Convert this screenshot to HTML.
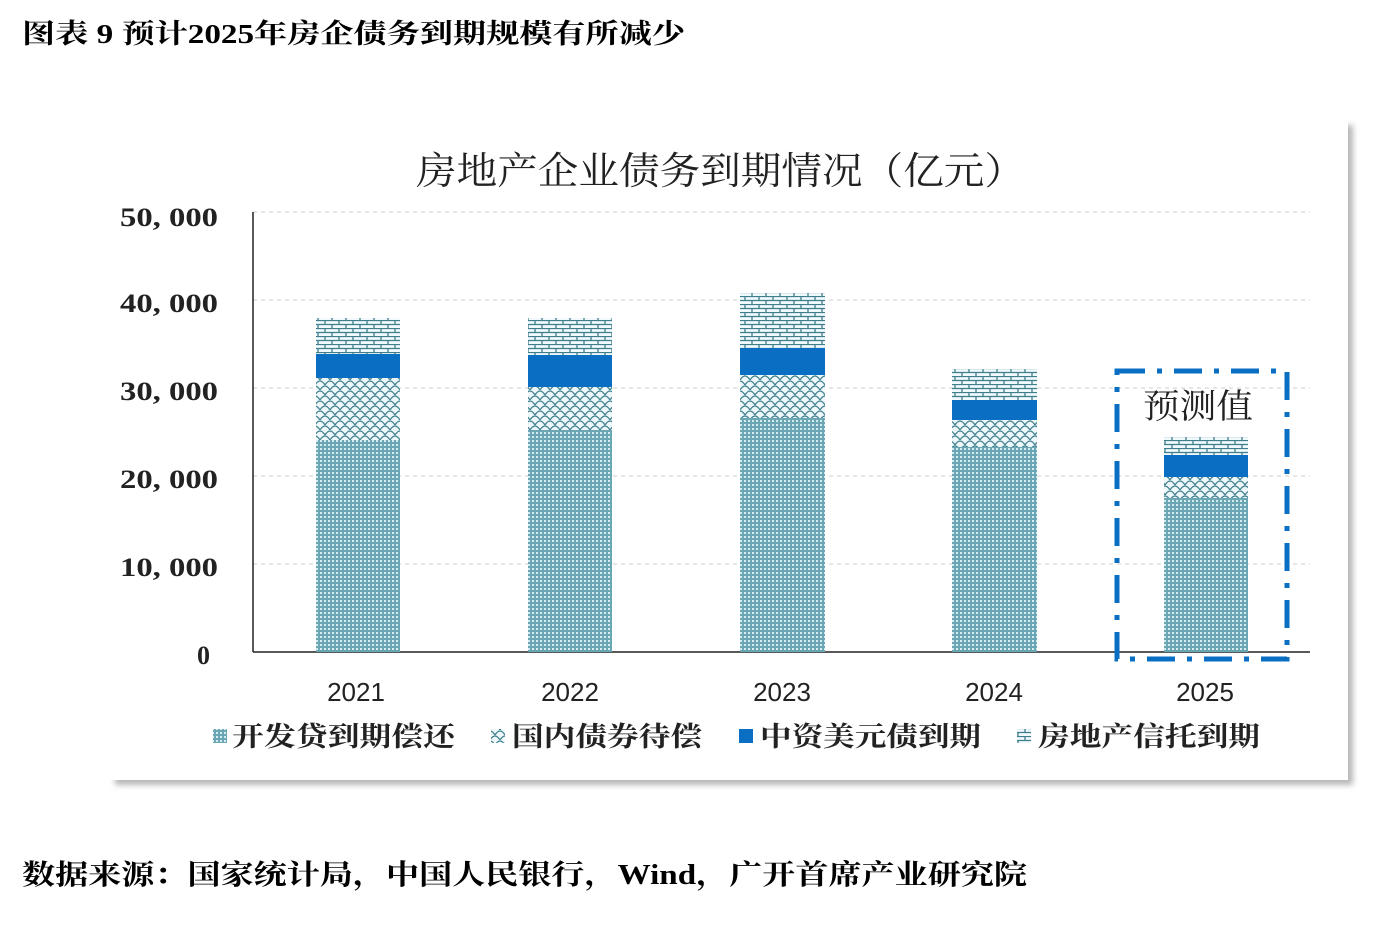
<!DOCTYPE html>
<html><head><meta charset="utf-8"><style>
html,body{margin:0;padding:0;background:#fff;width:1380px;height:930px;overflow:hidden}
</style></head><body>
<svg width="1380" height="930" xmlns="http://www.w3.org/2000/svg" font-family="'Liberation Serif','Noto Serif CJK SC',serif">
<defs>
<pattern id="dots" width="4" height="4" patternUnits="userSpaceOnUse"><rect width="4" height="4" fill="#6aa6b3"/><rect x="0" y="0" width="2" height="2" fill="#d6ecf0"/></pattern>
<pattern id="scale" width="10" height="10" patternUnits="userSpaceOnUse"><rect width="10" height="10" fill="#eef8fb"/><path d="M0 10 Q5 2 10 10" fill="none" stroke="#3f7f8c" stroke-width="1.2"/><path d="M-5 5 Q0 -3 5 5 M5 5 Q10 -3 15 5" fill="none" stroke="#3f7f8c" stroke-width="1.2"/></pattern>
<pattern id="brick" width="14" height="8" patternUnits="userSpaceOnUse"><rect width="14" height="8" fill="#f1f9fc"/><path d="M0 0.5H14 M0 4.5H14 M3 0V4 M10 4V8" stroke="#3f7f8c" stroke-width="1.3"/></pattern>
<filter id="sh" x="-5%" y="-5%" width="110%" height="110%"><feDropShadow dx="5" dy="5" stdDeviation="3" flood-color="#888" flood-opacity="0.6"/></filter>
</defs>
<text x="22" y="43" font-size="27" font-weight="bold" textLength="663" lengthAdjust="spacingAndGlyphs">图表 9 预计2025年房企债务到期规模有所减少</text>
<rect x="110" y="120" width="1238" height="660" fill="#fff" filter="url(#sh)"/>
<text x="416" y="184" font-size="38" fill="#222" textLength="609" lengthAdjust="spacingAndGlyphs">房地产企业债务到期情况（亿元）</text>
<g stroke="#ccc" stroke-dasharray="4,4" stroke-width="1">
<line x1="253" y1="212" x2="1310" y2="212"/><line x1="253" y1="300" x2="1310" y2="300"/><line x1="253" y1="388" x2="1310" y2="388"/><line x1="253" y1="476" x2="1310" y2="476"/><line x1="253" y1="564" x2="1310" y2="564"/></g>
<line x1="253" y1="212" x2="253" y2="652" stroke="#222" stroke-width="1.5"/>
<line x1="253" y1="652" x2="1310" y2="652" stroke="#222" stroke-width="1.5"/>
<g font-size="26" font-weight="bold" fill="#222">
<text x="120" y="226" textLength="98" lengthAdjust="spacingAndGlyphs">50, 000</text><text x="120" y="312" textLength="98" lengthAdjust="spacingAndGlyphs">40, 000</text><text x="120" y="400" textLength="98" lengthAdjust="spacingAndGlyphs">30, 000</text><text x="120" y="488" textLength="98" lengthAdjust="spacingAndGlyphs">20, 000</text><text x="120" y="576" textLength="98" lengthAdjust="spacingAndGlyphs">10, 000</text><text x="197" y="664">0</text></g>
<g>
<rect x="316" y="440" width="84" height="212" fill="url(#dots)"/><rect x="316" y="378" width="84" height="62" fill="url(#scale)"/><rect x="316" y="354" width="84" height="24" fill="#0a6fc2"/><rect x="316" y="318" width="84" height="36" fill="url(#brick)"/>
<rect x="528" y="430" width="84" height="222" fill="url(#dots)"/><rect x="528" y="387" width="84" height="43" fill="url(#scale)"/><rect x="528" y="355" width="84" height="32" fill="#0a6fc2"/><rect x="528" y="318" width="84" height="37" fill="url(#brick)"/>
<rect x="740" y="418" width="85" height="234" fill="url(#dots)"/><rect x="740" y="375" width="85" height="43" fill="url(#scale)"/><rect x="740" y="348" width="85" height="27" fill="#0a6fc2"/><rect x="740" y="293" width="85" height="55" fill="url(#brick)"/>
<rect x="952" y="447" width="85" height="205" fill="url(#dots)"/><rect x="952" y="420" width="85" height="27" fill="url(#scale)"/><rect x="952" y="400" width="85" height="20" fill="#0a6fc2"/><rect x="952" y="369" width="85" height="31" fill="url(#brick)"/>
<rect x="1164" y="498" width="84" height="154" fill="url(#dots)"/><rect x="1164" y="477" width="84" height="21" fill="url(#scale)"/><rect x="1164" y="455" width="84" height="22" fill="#0a6fc2"/><rect x="1164" y="437" width="84" height="18" fill="url(#brick)"/>
</g>
<rect x="1117" y="371" width="170" height="288" fill="none" stroke="#0a6fc2" stroke-width="5" stroke-dasharray="28,12,5,12"/>
<text x="1143" y="418" font-size="34" fill="#222" textLength="110" lengthAdjust="spacingAndGlyphs">预测值</text>
<g font-size="26" text-anchor="middle" fill="#222" font-family="'Liberation Sans',sans-serif">
<text x="356" y="701">2021</text><text x="570" y="701">2022</text><text x="782" y="701">2023</text><text x="994" y="701">2024</text><text x="1205" y="701">2025</text></g>
<g font-size="27" fill="#222" font-weight="bold">
<rect x="213" y="729" width="14" height="14" fill="url(#dots)"/><text x="232" y="746" textLength="223" lengthAdjust="spacingAndGlyphs">开发贷到期偿还</text>
<rect x="491" y="729" width="14" height="14" fill="url(#scale)"/><text x="512" y="746" textLength="190" lengthAdjust="spacingAndGlyphs">国内债券待偿</text>
<rect x="739" y="729" width="14" height="14" fill="#0a6fc2"/><text x="760" y="746" textLength="221" lengthAdjust="spacingAndGlyphs">中资美元债到期</text>
<rect x="1017" y="729" width="14" height="14" fill="url(#brick)"/><text x="1038" y="746" textLength="222" lengthAdjust="spacingAndGlyphs">房地产信托到期</text>
</g>
<text x="22" y="884" font-size="28" font-weight="bold" textLength="1005" lengthAdjust="spacingAndGlyphs">数据来源：国家统计局，中国人民银行，Wind，广开首席产业研究院</text>
</svg>
</body></html>
